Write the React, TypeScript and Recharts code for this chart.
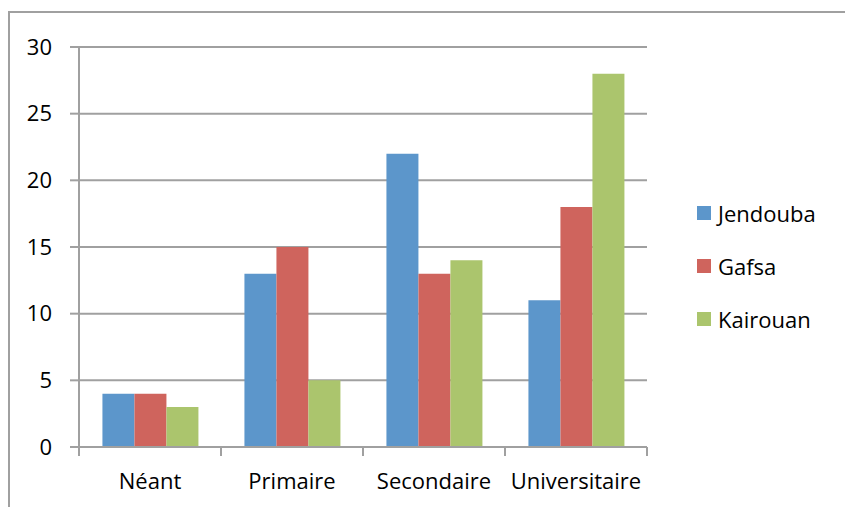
import React from 'react';
import { BarChart, Bar, XAxis, YAxis, CartesianGrid, Legend } from 'recharts';

const categories = ['Néant', 'Primaire', 'Secondaire', 'Universitaire'];
const seriesNames = ['Jendouba', 'Gafsa', 'Kairouan'];
const jendouba = [4, 13, 22, 11];
const gafsa = [4, 15, 13, 18];
const kairouan = [3, 5, 14, 28];
const yTicks = [0, 5, 10, 15, 20, 25, 30];

const chartData = categories.map((name, i) => ({
  name,
  Jendouba: jendouba[i],
  Gafsa: gafsa[i],
  Kairouan: kairouan[i],
}));

const colors = ['#5c96cb', '#cf645d', '#abc56d'];

const FONT = '"Open Sans", "Noto Sans", sans-serif';
const GRID = '#a0a0a0';
const X_MARGIN = 26;

// category label plus tick marks on the band boundaries (Excel style)
const CategoryTick = ({ x, y, payload, index }: any) => {
  const half = payload?.offset ?? 0;
  const axisY = y - X_MARGIN;
  return (
    <g>
      <line x1={x - half} y1={axisY} x2={x - half} y2={axisY + 9} stroke={GRID} strokeWidth={2} />
      {index === categories.length - 1 && (
        <line x1={x + half} y1={axisY} x2={x + half} y2={axisY + 9} stroke={GRID} strokeWidth={2} />
      )}
      <text x={x} y={y} dy="0.71em" textAnchor="middle" fill="#000" fontSize={22} fontFamily={FONT}>
        {payload.value}
      </text>
    </g>
  );
};

const CustomLegend = ({ payload }: any) => {
  // keep the series order, not the alphabetical one
  const items = [...(payload || [])].sort(
    (a: any, b: any) => seriesNames.indexOf(a.value) - seriesNames.indexOf(b.value)
  );
  return (
    <div style={{ fontFamily: FONT, fontSize: 22, color: '#000' }}>
      {items.map((entry: any) => (
        <div key={entry.value} style={{ height: 53, display: 'flex', alignItems: 'center' }}>
          <span style={{ width: 14, height: 14, backgroundColor: entry.color, marginRight: 7, display: 'inline-block' }} />
          <span>{entry.value}</span>
        </div>
      ))}
    </div>
  );
};

const App: React.FC = () => {
  return (
    <div
      style={{
        position: 'absolute',
        left: 8,
        top: 11,
        width: 835,
        height: 494,
        borderTop: '2px solid #a0a0a0',
        borderLeft: '2px solid #a0a0a0',
        background: '#fff',
        overflow: 'hidden',
      }}
    >
      <BarChart
        width={835}
        height={494}
        data={chartData}
        margin={{ top: 34, right: 58, left: 0, bottom: 11 }}
        barCategoryGap="16.5%"
        barGap={0}
      >
        <CartesianGrid vertical={false} stroke={GRID} strokeWidth={2} />
        <XAxis
          dataKey="name"
          axisLine={{ stroke: GRID, strokeWidth: 2 }}
          tickLine={false}
          tickSize={0}
          tickMargin={X_MARGIN}
          height={49}
          interval={0}
          tick={<CategoryTick />}
        />
        <YAxis
          width={69}
          domain={[0, 30]}
          ticks={yTicks}
          tickSize={9}
          tickMargin={18}
          axisLine={{ stroke: GRID, strokeWidth: 2 }}
          tickLine={{ stroke: GRID, strokeWidth: 2 }}
          tick={{ fontSize: 22, fill: '#000', fontFamily: FONT }}
        />
        <Legend
          layout="vertical"
          align="right"
          verticalAlign="middle"
          content={<CustomLegend />}
          wrapperStyle={{ left: 687, top: 173, width: 140 }}
        />
        {seriesNames.map((name, i) => (
          <Bar key={name} dataKey={name} fill={colors[i]} isAnimationActive={false} />
        ))}
      </BarChart>
    </div>
  );
};

export default App;
